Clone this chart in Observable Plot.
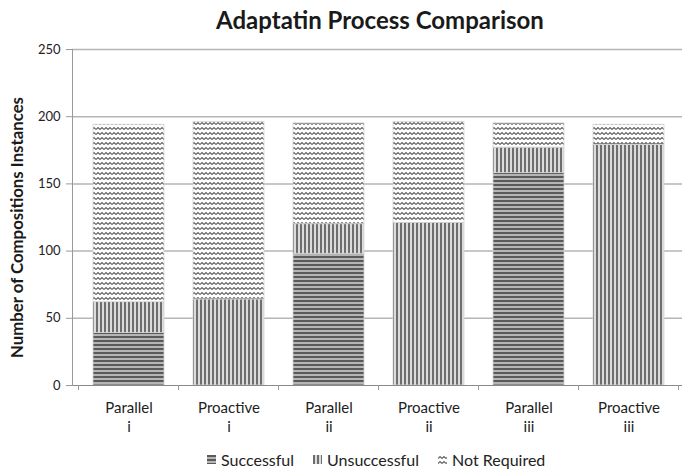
<!DOCTYPE html>
<html><head><meta charset="utf-8">
<script src="https://cdn.jsdelivr.net/npm/d3@7"></script>
<script src="https://cdn.jsdelivr.net/npm/@observablehq/plot@0.6"></script>
<style>
body{margin:0;background:#fff;font-family:Lato,"Open Sans",sans-serif;}
#title{height:36px;line-height:39px;text-align:center;font-weight:bold;font-size:24px;color:#1a1a1a;padding-left:75px;width:610px;white-space:nowrap;}
#legend{position:relative;height:29px;width:685px;font-size:16px;color:#222;}
#legend span.item{position:absolute;top:4px;display:flex;align-items:center;}
#legend svg{margin-right:5px;}
</style>
</head><body>
<div id="title">Adaptatin Process Comparison</div>
<div id="chart"></div>
<div id="legend"></div>
<script>
const categories = ["Parallel\ni", "Proactive\ni", "Parallel\nii", "Proactive\nii", "Parallel\niii", "Proactive\niii"];
const seriesNames = ["Successful", "Unsuccessful", "Not Required"];
const successful = [39, 0, 98, 0, 158, 0];
const unsuccessful = [23, 64, 22, 121, 19, 179];
const notRequired = [132, 132, 75, 75, 18, 15];
const yTicks = [0, 50, 100, 150, 200, 250];

const seriesValues = [successful, unsuccessful, notRequired];
const data = [];
seriesNames.forEach((s, si) => categories.forEach((c, ci) => data.push({category: c, series: s, value: seriesValues[si][ci]})));

const patternIds = ["url(#pSucc)", "url(#pUnsucc)", "url(#pNR)"];

const svg = Plot.plot({
  width: 685,
  height: 410,
  marginTop: 13,
  marginBottom: 61,
  marginLeft: 72,
  marginRight: 3,
  style: {fontFamily: "Lato, 'Open Sans', sans-serif", fontSize: "13px", color: "#222", background: "#fff"},
  x: {domain: categories, paddingInner: 0.289, paddingOuter: 0.17, align: 0.54, label: null},
  y: {domain: [0, 250], ticks: yTicks, label: null},
  color: {type: "ordinal", domain: seriesNames, range: patternIds},
  marks: [
    Plot.gridY(yTicks.filter(t => t > 0), {stroke: "#b5b5b5", strokeOpacity: 1, strokeWidth: 1.5}),
    Plot.barY(data, Plot.stackY({x: "category", y: "value", fill: "series", stroke: "#d4d4d4", strokeWidth: 0.8})),
    Plot.ruleY([0], {stroke: "#8a8a8a", strokeWidth: 1.2}),
    Plot.axisY({ticks: yTicks, tickSize: 6, tickPadding: 6, stroke: "#999", fontSize: 13, label: null}),
    Plot.axisX({tickSize: 0, tickPadding: 14, fontSize: 15, lineHeight: 1.27, label: null}),
    Plot.frame({anchor: "left", stroke: "#999"})
  ]
});

const defs = `<defs>
<pattern id="pSucc" patternUnits="userSpaceOnUse" width="4" height="4">
 <rect width="4" height="4" fill="#b5b5b5"/><rect y="0" width="4" height="2" fill="#5a5a5a"/>
</pattern>
<pattern id="pUnsucc" patternUnits="userSpaceOnUse" width="4" height="4">
 <rect width="4" height="4" fill="#dcdcdc"/><rect x="0" width="2" height="4" fill="#6e6e6e"/>
</pattern>
<pattern id="pNR" patternUnits="userSpaceOnUse" width="8" height="5">
 <rect width="8" height="5" fill="#fff"/>
 <path d="M0,3.5 L2,1.5 L4,3.5 L6,1.5 L8,3.5" fill="none" stroke="#666" stroke-width="1.2"/>
</pattern>
</defs>`;
svg.insertAdjacentHTML("afterbegin", defs);

const ns = "http://www.w3.org/2000/svg";
// category boundary ticks below the baseline, from the x scale
const xs = svg.scale("x"), ys = svg.scale("y");
const y0 = ys.apply(0);
const bounds = categories.map(c => xs.apply(c) + xs.bandwidth / 2 - xs.step / 2);
bounds.push(xs.apply(categories[categories.length - 1]) + xs.bandwidth / 2 + xs.step / 2);
bounds.forEach(bx => {
  const l = document.createElementNS(ns, "line");
  l.setAttribute("x1", bx); l.setAttribute("x2", bx);
  l.setAttribute("y1", y0); l.setAttribute("y2", y0 + 5);
  l.setAttribute("stroke", "#999");
  svg.appendChild(l);
});

// y axis title
const t = document.createElementNS(ns, "text");
t.setAttribute("transform", "translate(23,191.5) rotate(-90)");
t.setAttribute("text-anchor", "middle");
t.setAttribute("font-weight", "bold");
t.setAttribute("font-size", "16.8");
t.setAttribute("fill", "#1a1a1a");
t.textContent = "Number of Compositions Instances";
svg.appendChild(t);

document.getElementById("chart").appendChild(svg);

// legend
const legend = document.getElementById("legend");
const lx = [207, 313, 438];
seriesNames.forEach((s, i) => {
  const item = document.createElement("span");
  item.className = "item";
  item.style.left = lx[i] + "px";
  item.innerHTML = `<svg width="9" height="9"><rect width="9" height="9" fill="${patternIds[i]}"/></svg>${s}`;
  legend.appendChild(item);
});
legend.insertAdjacentHTML("afterbegin", `<svg width="0" height="0" style="position:absolute">${defs}</svg>`);
</script>
</body></html>
